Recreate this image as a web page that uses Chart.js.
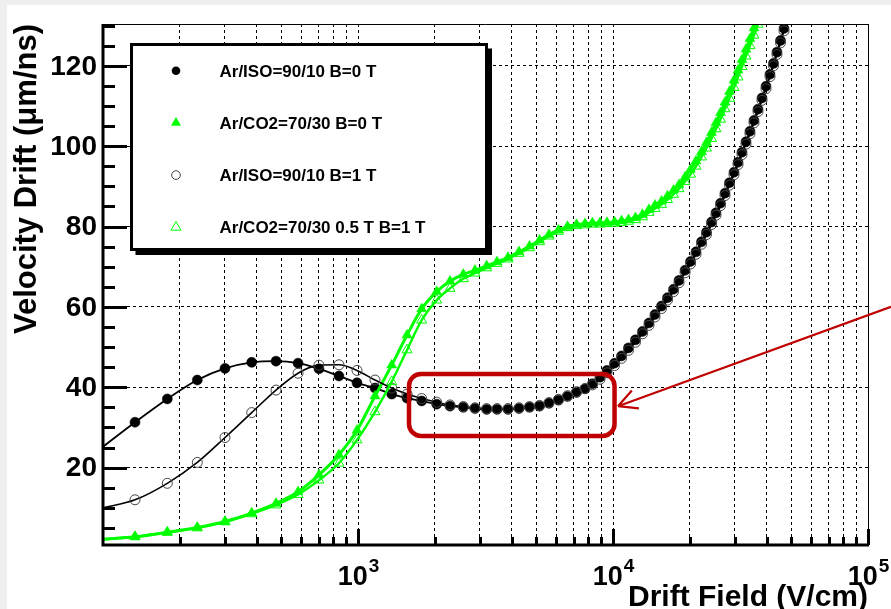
<!DOCTYPE html>
<html>
<head>
<meta charset="utf-8">
<script src="https://cdn.jsdelivr.net/npm/chart.js@4.4.1/dist/chart.umd.min.js"></script>
<style>
  html, body { margin: 0; padding: 0; background: #fff; }
  canvas { display: block; }
</style>
</head>
<body>
<canvas id="drift" width="891" height="609"></canvas>
<script>
'use strict';

// drift field (V/cm); first entry is the curve start at the left axis
const fieldVcm = [100, 133.5, 178.7, 234.3, 300.9, 383, 477, 582, 703, 842, 991, 1166, 1356, 1557, 1777,
  2035, 2295, 2588, 2876, 3196, 3509, 3875, 4280, 4705, 5150, 5610, 6113, 6630, 7193, 7767, 8310, 8892,
  9473, 10140, 10800, 11500, 12250, 13050, 13840, 14610, 15500, 16360, 17270, 18150, 19170, 20140, 21160,
  22240, 23260, 24340, 25340, 26400, 27490, 28630, 29820, 30920, 32050, 33230, 34450, 35720, 37030, 38400,
  39810, 41270, 42600, 43960, 45380, 46840];

// drift velocity (um/ns)
const arIsoB0 = [25.2, 31.3, 37.1, 41.8, 44.7, 46.2, 46.5, 46.0, 44.6, 42.8, 41.1, 39.8, 38.3, 37.3, 36.6,
  35.8, 35.3, 35.0, 34.7, 34.5, 34.5, 34.5, 34.7, 35.0, 35.3, 36.0, 36.8, 37.7, 38.7, 39.6, 40.9, 42.5, 44.2,
  46.0, 47.8, 49.8, 51.8, 53.9, 56.0, 58.1, 60.2, 62.3, 64.4, 66.6, 69.1, 71.3, 73.7, 76.2, 78.6, 81.1, 83.4,
  85.8, 88.3, 90.9, 93.5, 96.0, 98.5, 101.1, 103.7, 106.4, 109.2, 112.0, 114.9, 117.9, 120.6, 123.4, 126.3, 129.3];

const arCo2B0 = [2.2, 2.8, 3.9, 5.1, 6.6, 8.7, 11.1, 14.0, 18.2, 23.2, 29.3, 37.8, 45.5, 53.0, 59.5, 63.8,
  66.4, 68.1, 69.1, 70.2, 71.2, 72.3, 73.7, 75.1, 76.6, 78.0, 79.1, 80.0, 80.5, 80.7, 80.9, 80.9, 81.0, 81.1,
  81.4, 81.7, 82.2, 83.0, 84.2, 85.3, 86.3, 87.6, 89.0, 90.4, 92.3, 94.2, 96.3, 98.6, 100.9, 103.4, 105.8,
  108.3, 110.9, 113.6, 116.4, 118.9, 121.5, 124.1, 126.7, 129.4, 132.1];

const arIsoB1 = [10.0, 12.0, 16.1, 21.3, 27.5, 33.7, 39.3, 43.5, 45.5, 45.6, 44.2, 41.8, 39.8, 38.3, 37.2,
  36.3, 35.6, 35.2, 34.9, 34.7, 34.7, 34.7, 34.9, 35.2, 35.5, 36.2, 37.0, 37.9, 38.9, 39.7, 40.6, 42.0, 43.6,
  45.4, 47.2, 49.2, 51.2, 53.3, 55.4, 57.5, 59.6, 61.7, 63.8, 66.0, 68.5, 70.7, 73.1, 75.6, 78.0, 80.5, 82.8,
  85.2, 87.7, 90.3, 92.9, 95.4, 97.9, 100.5, 103.1, 105.8, 108.6, 111.4, 114.3, 117.3, 120.0, 122.8, 125.7, 128.7];

const arCo2B1 = [2.2, 2.8, 3.9, 5.0, 6.5, 8.5, 10.7, 13.3, 16.9, 21.1, 26.9, 33.9, 41.4, 49.3, 56.7, 61.7,
  64.6, 67.0, 68.4, 69.7, 70.8, 71.9, 73.3, 74.7, 76.2, 77.6, 78.8, 79.7, 80.2, 80.4, 80.6, 80.6, 80.7, 80.8,
  81.0, 81.3, 81.7, 82.4, 83.5, 84.5, 85.5, 86.7, 88.0, 89.4, 91.2, 93.0, 95.0, 97.3, 99.5, 101.9, 104.3,
  106.7, 109.3, 111.9, 114.6, 117.2, 119.8, 122.4, 125.0, 127.6, 130.3];

const seriesLabels = ['Ar/ISO=90/10 B=0 T', 'Ar/CO2=70/30 B=0 T', 'Ar/ISO=90/10 B=1 T', 'Ar/CO2=70/30 0.5 T B=1 T'];
const yTickValues = [20, 40, 60, 80, 100, 120];
const xDecadeExponents = [3, 4, 5];

// red highlight (data units) and the arrow pointing at it
const highlightBox = { xMin: 1585, xMax: 10140, yMin: 27.9, yMax: 43.3 };
const arrowFrom = { x: 123000, y: 60.0 };
const arrowTo = { x: 10460, y: 35.3 };

const FONT = '"Liberation Sans", Arial, Helvetica, sans-serif';
const GREEN = '#00ff00';
const RED = '#c00000';

const gridFields = [];
for (let e = 2; e <= 4; e++) {
  for (let m = 1; m <= 9; m++) gridFields.push(m * Math.pow(10, e));
}
gridFields.push(100000);

function pts(ys) {
  return ys.map((y, i) => ({ x: fieldVcm[i], y }));
}
const hideFirst = r => ctx => (ctx.dataIndex === 0 ? 0 : r);

function drawMarker(ctx, style, filled, color, x, y, r) {
  ctx.beginPath();
  if (style === 'circle') {
    ctx.arc(x, y, r, 0, Math.PI * 2);
  } else {
    ctx.moveTo(x, y - r);
    ctx.lineTo(x + r * 0.866, y + r * 0.5);
    ctx.lineTo(x - r * 0.866, y + r * 0.5);
    ctx.closePath();
  }
  if (filled) {
    ctx.fillStyle = color;
    ctx.fill();
  } else {
    ctx.strokeStyle = color;
    ctx.lineWidth = 1;
    ctx.stroke();
  }
}

const decor = {
  id: 'decor',
  beforeDraw(chart) {
    const { ctx, width, height } = chart;
    ctx.save();
    ctx.fillStyle = '#fff';
    ctx.fillRect(0, 0, width, height);
    ctx.fillStyle = '#efefef';
    ctx.fillRect(0, 0, width, 5);
    ctx.fillRect(0, 0, 7, height);
    ctx.restore();
  },
  afterDraw(chart) {
    const { ctx, chartArea: a, scales: { x, y } } = chart;
    ctx.save();
    ctx.strokeStyle = '#000';

    // thin top / right frame
    ctx.lineWidth = 1;
    ctx.beginPath();
    ctx.moveTo(a.left, a.top + 0.5);
    ctx.lineTo(a.right + 0.5, a.top + 0.5);
    ctx.lineTo(a.right + 0.5, a.bottom);
    ctx.stroke();

    // thick axes
    ctx.lineWidth = 3;
    ctx.beginPath();
    ctx.moveTo(a.left, a.top);
    ctx.lineTo(a.left, a.bottom);
    ctx.lineTo(a.right + 1, a.bottom);
    ctx.stroke();

    for (let v = 5; v <= 130; v += 5) {
      const py = Math.round(y.getPixelForValue(v)) + 0.5;
      const len = v % 20 === 0 ? 24 : 12;
      ctx.beginPath();
      ctx.moveTo(a.left, py);
      ctx.lineTo(a.left + len, py);
      ctx.stroke();
    }
    x.ticks.forEach(t => {
      if (t.value <= 100) return;
      const px = Math.round(x.getPixelForValue(t.value)) + 0.5;
      const major = Math.abs(Math.log10(t.value) - Math.round(Math.log10(t.value))) < 1e-6;
      ctx.beginPath();
      ctx.moveTo(px, a.bottom);
      ctx.lineTo(px, a.bottom - (major ? 16 : 8));
      ctx.stroke();
    });

    // tick labels
    ctx.fillStyle = '#000';
    ctx.font = `bold 28px ${FONT}`;
    ctx.textAlign = 'right';
    ctx.textBaseline = 'middle';
    yTickValues.forEach(v => ctx.fillText(String(v), a.left - 6, y.getPixelForValue(v) + 1));

    ctx.textAlign = 'left';
    ctx.textBaseline = 'alphabetic';
    xDecadeExponents.forEach(e => {
      const px = x.getPixelForValue(Math.pow(10, e));
      ctx.font = `bold 27px ${FONT}`;
      const w1 = ctx.measureText('10').width;
      ctx.font = `bold 19px ${FONT}`;
      const w2 = ctx.measureText(String(e)).width;
      const left = px - (w1 + w2) / 2;
      ctx.font = `bold 27px ${FONT}`;
      ctx.fillText('10', left, a.bottom + 40);
      ctx.font = `bold 19px ${FONT}`;
      ctx.fillText(String(e), left + w1 + 1, a.bottom + 27);
    });

    // axis titles
    ctx.font = `bold 30px ${FONT}`;
    ctx.textAlign = 'right';
    ctx.fillText('Drift Field (V/cm)', a.right, 606);
    ctx.save();
    ctx.font = `bold 31px ${FONT}`;
    ctx.translate(36, a.top);
    ctx.rotate(-Math.PI / 2);
    ctx.fillText('Velocity Drift (\u03bcm/ns)', 0, 0);
    ctx.restore();

    // legend box with shadow
    const L = { x: 131.5, y: 44.5, w: 355, h: 205 };
    ctx.fillStyle = '#000';
    ctx.fillRect(L.x + 4, L.y + 4, L.w + 1.5, L.h + 1.5);
    ctx.fillStyle = '#fff';
    ctx.fillRect(L.x, L.y, L.w, L.h);
    ctx.lineWidth = 3;
    ctx.strokeRect(L.x, L.y, L.w, L.h);
    ctx.font = `bold 17px ${FONT}`;
    ctx.textAlign = 'left';
    chart.data.datasets.forEach((ds, i) => {
      const ry = L.y + 26.2 + i * 52.2;
      const filled = ds.pointBackgroundColor !== 'transparent';
      const col = filled ? ds.pointBackgroundColor : ds.pointBorderColor;
      drawMarker(ctx, ds.pointStyle, filled, col, 176, ry, ds.pointStyle === 'circle' ? 4.3 : 5.8);
      ctx.fillStyle = '#000';
      ctx.fillText(seriesLabels[i], 219.5, ry + 6);
    });

    // highlight box
    const bx0 = x.getPixelForValue(highlightBox.xMin);
    const bx1 = x.getPixelForValue(highlightBox.xMax);
    const by0 = y.getPixelForValue(highlightBox.yMax);
    const by1 = y.getPixelForValue(highlightBox.yMin);
    const r = 12;
    ctx.strokeStyle = RED;
    ctx.lineWidth = 4.5;
    ctx.beginPath();
    ctx.moveTo(bx0 + r, by0);
    ctx.arcTo(bx1, by0, bx1, by1, r);
    ctx.arcTo(bx1, by1, bx0, by1, r);
    ctx.arcTo(bx0, by1, bx0, by0, r);
    ctx.arcTo(bx0, by0, bx1, by0, r);
    ctx.closePath();
    ctx.stroke();

    // arrow
    const tx = x.getPixelForValue(arrowTo.x), ty = y.getPixelForValue(arrowTo.y);
    const fx = x.getPixelForValue(arrowFrom.x), fy = y.getPixelForValue(arrowFrom.y);
    const ang = Math.atan2(fy - ty, fx - tx);
    ctx.lineWidth = 2.2;
    ctx.beginPath();
    ctx.moveTo(fx, fy);
    ctx.lineTo(tx, ty);
    [-0.5, 0.45].forEach(d => {
      ctx.moveTo(tx, ty);
      ctx.lineTo(tx + 21 * Math.cos(ang + d), ty + 21 * Math.sin(ang + d));
    });
    ctx.stroke();
    ctx.restore();
  }
};

new Chart(document.getElementById('drift').getContext('2d'), {
  type: 'line',
  data: {
    datasets: [
      {
        label: seriesLabels[0],
        data: pts(arIsoB0),
        borderColor: '#000',
        borderWidth: 1.8,
        pointStyle: 'circle',
        pointRadius: hideFirst(5),
        pointBackgroundColor: '#000',
        pointBorderColor: '#000',
        pointBorderWidth: 0.5,
        order: 3,
      },
      {
        label: seriesLabels[1],
        data: pts(arCo2B0),
        borderColor: GREEN,
        borderWidth: 3,
        pointStyle: 'triangle',
        pointRadius: hideFirst(5.8),
        pointBackgroundColor: GREEN,
        pointBorderColor: GREEN,
        pointBorderWidth: 0.5,
        order: 2,
      },
      {
        label: seriesLabels[2],
        data: pts(arIsoB1),
        borderColor: '#000',
        borderWidth: 1.6,
        pointStyle: 'circle',
        pointRadius: hideFirst(5),
        pointBackgroundColor: 'transparent',
        pointBorderColor: '#444',
        pointBorderWidth: 1,
        order: 1,
      },
      {
        label: seriesLabels[3],
        data: pts(arCo2B1),
        borderColor: GREEN,
        borderWidth: 2.4,
        pointStyle: 'triangle',
        pointRadius: hideFirst(5.8),
        pointBackgroundColor: 'transparent',
        pointBorderColor: GREEN,
        pointBorderWidth: 1,
        order: 0,
      },
    ],
  },
  options: {
    responsive: false,
    animation: false,
    events: [],
    clip: 0,
    cubicInterpolationMode: 'monotone',
    layout: { padding: { left: 103, top: 24, right: 23, bottom: 64 } },
    plugins: { legend: { display: false }, tooltip: { enabled: false } },
    scales: {
      x: {
        type: 'logarithmic',
        min: 100,
        max: 100000,
        afterBuildTicks: s => { s.ticks = gridFields.map(v => ({ value: v })); },
        ticks: { display: false },
        grid: { color: '#000', lineWidth: 1, drawTicks: false },
        border: { display: false, dash: [3, 3] },
      },
      y: {
        type: 'linear',
        min: 0.75,
        max: 130.4,
        afterBuildTicks: s => { s.ticks = yTickValues.map(v => ({ value: v })); },
        ticks: { display: false },
        grid: { color: '#000', lineWidth: 1, drawTicks: false },
        border: { display: false, dash: [3, 3] },
      },
    },
  },
  plugins: [decor],
});
</script>
</body>
</html>
